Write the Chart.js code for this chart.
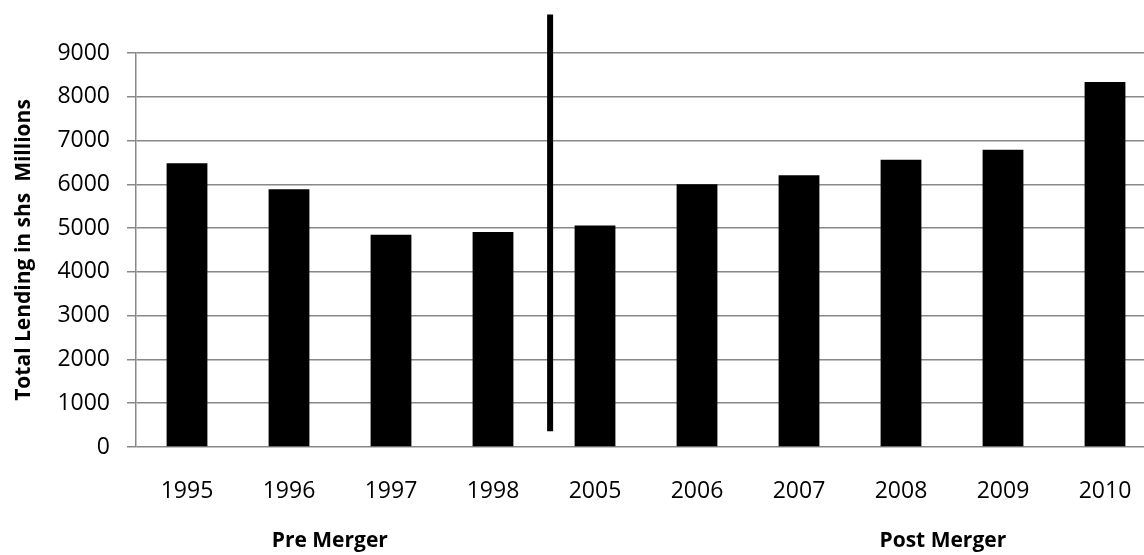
<!DOCTYPE html>
<html>
<head>
<meta charset="utf-8">
<script src="https://cdn.jsdelivr.net/npm/chart.js@4.4.1/dist/chart.umd.min.js"></script>
<style>
    body { margin: 0; background: #fff; overflow: hidden; }
    #wrap { width: 1156px; height: 555px; }
</style>
</head>
<body>
<div id="wrap"><canvas id="grafico"></canvas></div>
<script>
// Datos del gráfico
const years = ['1995', '1996', '1997', '1998', '2005', '2006', '2007', '2008', '2009', '2010'];
const lending = [6480, 5890, 4850, 4910, 5060, 6000, 6210, 6560, 6790, 8340];
const yTicks = [0, 1000, 2000, 3000, 4000, 5000, 6000, 7000, 8000, 9000];
const periodLabels = ['Pre Merger', 'Post Merger'];

// Línea divisoria y etiquetas de periodo
const mergerPlugin = {
    id: 'merger',
    afterDraw(chart) {
        const { ctx, scales: { x, y } } = chart;
        const between = (i, f) => x.getPixelForValue(i) + f * (x.getPixelForValue(i + 1) - x.getPixelForValue(i));

        ctx.save();
        ctx.strokeStyle = '#000';
        ctx.lineWidth = 6;
        const lx = between(3, 0.56);
        ctx.beginPath();
        ctx.moveTo(lx, y.getPixelForValue(9880));
        ctx.lineTo(lx, y.getPixelForValue(360));
        ctx.stroke();

        ctx.fillStyle = '#000';
        ctx.font = 'bold 21px "Open Sans"';
        ctx.textAlign = 'center';
        ctx.textBaseline = 'alphabetic';
        ctx.fillText(periodLabels[0], between(1, 0.40), 547);
        ctx.fillText(periodLabels[1], between(7, 0.41), 547);
        ctx.restore();
    }
};

const config = {
    type: 'bar',
    data: {
        labels: years,
        datasets: [{
            data: lending,
            backgroundColor: '#000',
            borderWidth: 0,
            barPercentage: 0.4,
            categoryPercentage: 1.0
        }]
    },
    options: {
        responsive: true,
        maintainAspectRatio: false,
        animation: false,
        layout: { padding: { top: 53, left: 0, right: 0, bottom: 0 } },
        plugins: {
            legend: { display: false },
            tooltip: { enabled: false }
        },
        scales: {
            x: {
                grid: { display: false },
                border: { display: false },
                ticks: {
                    color: '#000',
                    padding: 23,
                    maxRotation: 0,
                    font: { family: 'Open Sans', size: 23 }
                },
                afterFit(scale) { scale.height = 108; }
            },
            y: {
                min: 0,
                max: 9000,
                afterBuildTicks(scale) { scale.ticks = yTicks.map(v => ({ value: v })); },
                grid: { color: '#888', lineWidth: 1.5, tickLength: 9, tickColor: '#888' },
                border: { display: true, color: '#888', width: 1.5 },
                ticks: {
                    color: '#000',
                    padding: 17,
                    font: { family: 'Open Sans', size: 23 },
                    callback: (value) => String(value)
                },
                title: {
                    display: true,
                    text: 'Total Lending in shs  Millions',
                    color: '#000',
                    padding: { top: 11, bottom: 0 },
                    font: { family: 'Open Sans', size: 21, weight: 'bold' }
                },
                afterFit(scale) { scale.width = 136; }
            }
        }
    },
    plugins: [mergerPlugin]
};

new Chart(document.getElementById('grafico'), config);
</script>
</body>
</html>
